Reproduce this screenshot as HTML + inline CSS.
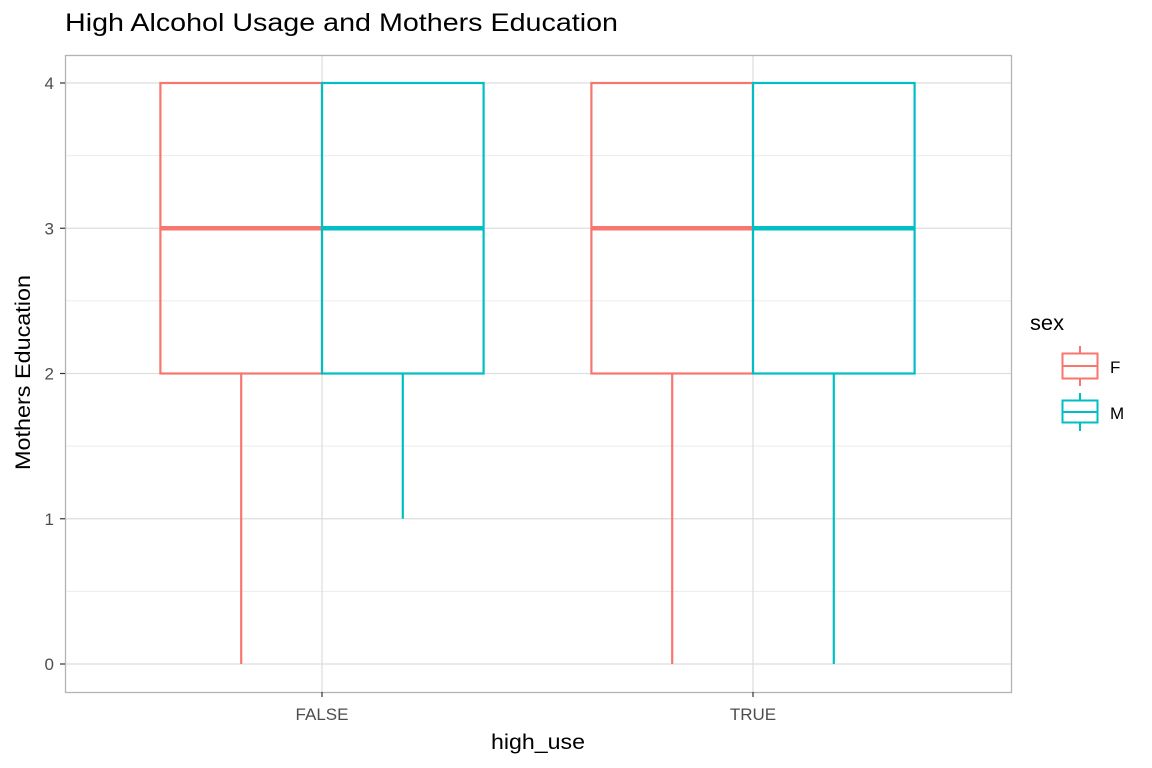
<!DOCTYPE html>
<html><head><meta charset="utf-8"><style>
html,body{margin:0;padding:0;background:#fff;}
svg{display:block;font-family:"Liberation Sans",sans-serif;}
</style></head><body>
<svg id="chart" width="1152" height="768">
<text x="65" y="31" font-size="25" textLength="553" lengthAdjust="spacingAndGlyphs" fill="#000">High Alcohol Usage and Mothers Education</text>
<g id="grid"></g>
<g id="marks"></g>
<rect x="65.5" y="55.5" width="946" height="637" fill="none" stroke="#b3b3b3" stroke-width="1.3"/>
<g id="axes"></g>
<text x="491" y="749" font-size="21" textLength="94" lengthAdjust="spacingAndGlyphs" fill="#000">high_use</text>
<text transform="translate(30,470) rotate(-90)" font-size="21" textLength="195" lengthAdjust="spacingAndGlyphs" fill="#000">Mothers Education</text>
<g>
<text x="1030" y="330" font-size="21" textLength="34" lengthAdjust="spacingAndGlyphs" fill="#000">sex</text>
<g>
<line x1="1080" y1="346" x2="1080" y2="386" stroke="#F8766D" stroke-width="2"/>
<rect x="1062.5" y="353.5" width="35" height="25" fill="#fff" stroke="#F8766D" stroke-width="2"/>
<line x1="1062" y1="366" x2="1098" y2="366" stroke="#F8766D" stroke-width="2"/>
<text x="1110" y="373" font-size="17" fill="#000">F</text>
</g>
<g>
<line x1="1080" y1="393" x2="1080" y2="431" stroke="#00BFC4" stroke-width="2"/>
<rect x="1062.5" y="400.5" width="35" height="22" fill="#fff" stroke="#00BFC4" stroke-width="2"/>
<line x1="1062" y1="412" x2="1098" y2="412" stroke="#00BFC4" stroke-width="2"/>
<text x="1110" y="419" font-size="17" fill="#000">M</text>
</g>
</g>
</svg>
<script>
const categories = ["FALSE", "TRUE"];
const groups = ["F", "M"];
const colors = {F: "#F8766D", M: "#00BFC4"};
const yTicks = [0, 1, 2, 3, 4];
// [min, q1, median, q3, max] per category per group
const statsF = [[0, 2, 3, 4, 4], [0, 2, 3, 4, 4]];
const statsM = [[1, 2, 3, 4, 4], [0, 2, 3, 4, 4]];

const NS = "http://www.w3.org/2000/svg";
const y = v => 664 - v * 145.25;
const xCat = i => 322 + i * 431;
const boxW = 161.6;
function mk(tag, attrs, parent) {
  const e = document.createElementNS(NS, tag);
  for (const k in attrs) e.setAttribute(k, attrs[k]);
  parent.appendChild(e);
  return e;
}
const grid = document.getElementById("grid");
const axes = document.getElementById("axes");
const marks = document.getElementById("marks");
for (let v = 0.5; v < 4.2; v += 1) {
  const l = mk("line", {x1: 65, x2: 1011, y1: y(v), y2: y(v), stroke: "#ebebeb", "stroke-width": 1}, grid);
  
  
}
yTicks.forEach(v => {
  const l = mk("line", {x1: 65, x2: 1011, y1: y(v), y2: y(v), stroke: "#dedede", "stroke-width": 1.3}, grid);
  
  
  mk("line", {x1: 60, x2: 65, y1: y(v), y2: y(v), stroke: "#333", "stroke-width": 1.2}, axes);
  const t = mk("text", {x: 54, y: y(v) + 6, "font-size": 17, "text-anchor": "end", fill: "#4d4d4d"}, axes);
  t.textContent = v;
  
  
});
categories.forEach((c, i) => {
  const l = mk("line", {x1: xCat(i), x2: xCat(i), y1: 55, y2: 692, stroke: "#dedede", "stroke-width": 1.3}, grid);
  
  
  mk("line", {x1: xCat(i), x2: xCat(i), y1: 692, y2: 697, stroke: "#333", "stroke-width": 1.2}, axes);
  const t = mk("text", {x: xCat(i), y: 720, "font-size": 17, "text-anchor": "middle", fill: "#4d4d4d"}, axes);
  t.textContent = c;
  
  
});
[statsF, statsM].forEach((stats, g) => {
  const col = colors[groups[g]];
  stats.forEach((s, i) => {
    const x0 = xCat(i) - boxW + g * boxW;
    const cx = x0 + boxW / 2;
    const grp = mk("g", {}, marks);
    
    
    mk("line", {x1: cx, x2: cx, y1: y(s[0]), y2: y(s[1]), stroke: col, "stroke-width": 2.2}, grp);
    mk("line", {x1: cx, x2: cx, y1: y(s[3]), y2: y(s[4]), stroke: col, "stroke-width": 2.2}, grp);
    mk("rect", {x: x0, y: y(s[3]), width: boxW, height: y(s[1]) - y(s[3]), fill: "none", stroke: col, "stroke-width": 2.2}, grp);
    mk("line", {x1: x0, x2: x0 + boxW, y1: y(s[2]), y2: y(s[2]), stroke: col, "stroke-width": 4.4}, grp);
  });
});
</script>
</body></html>
